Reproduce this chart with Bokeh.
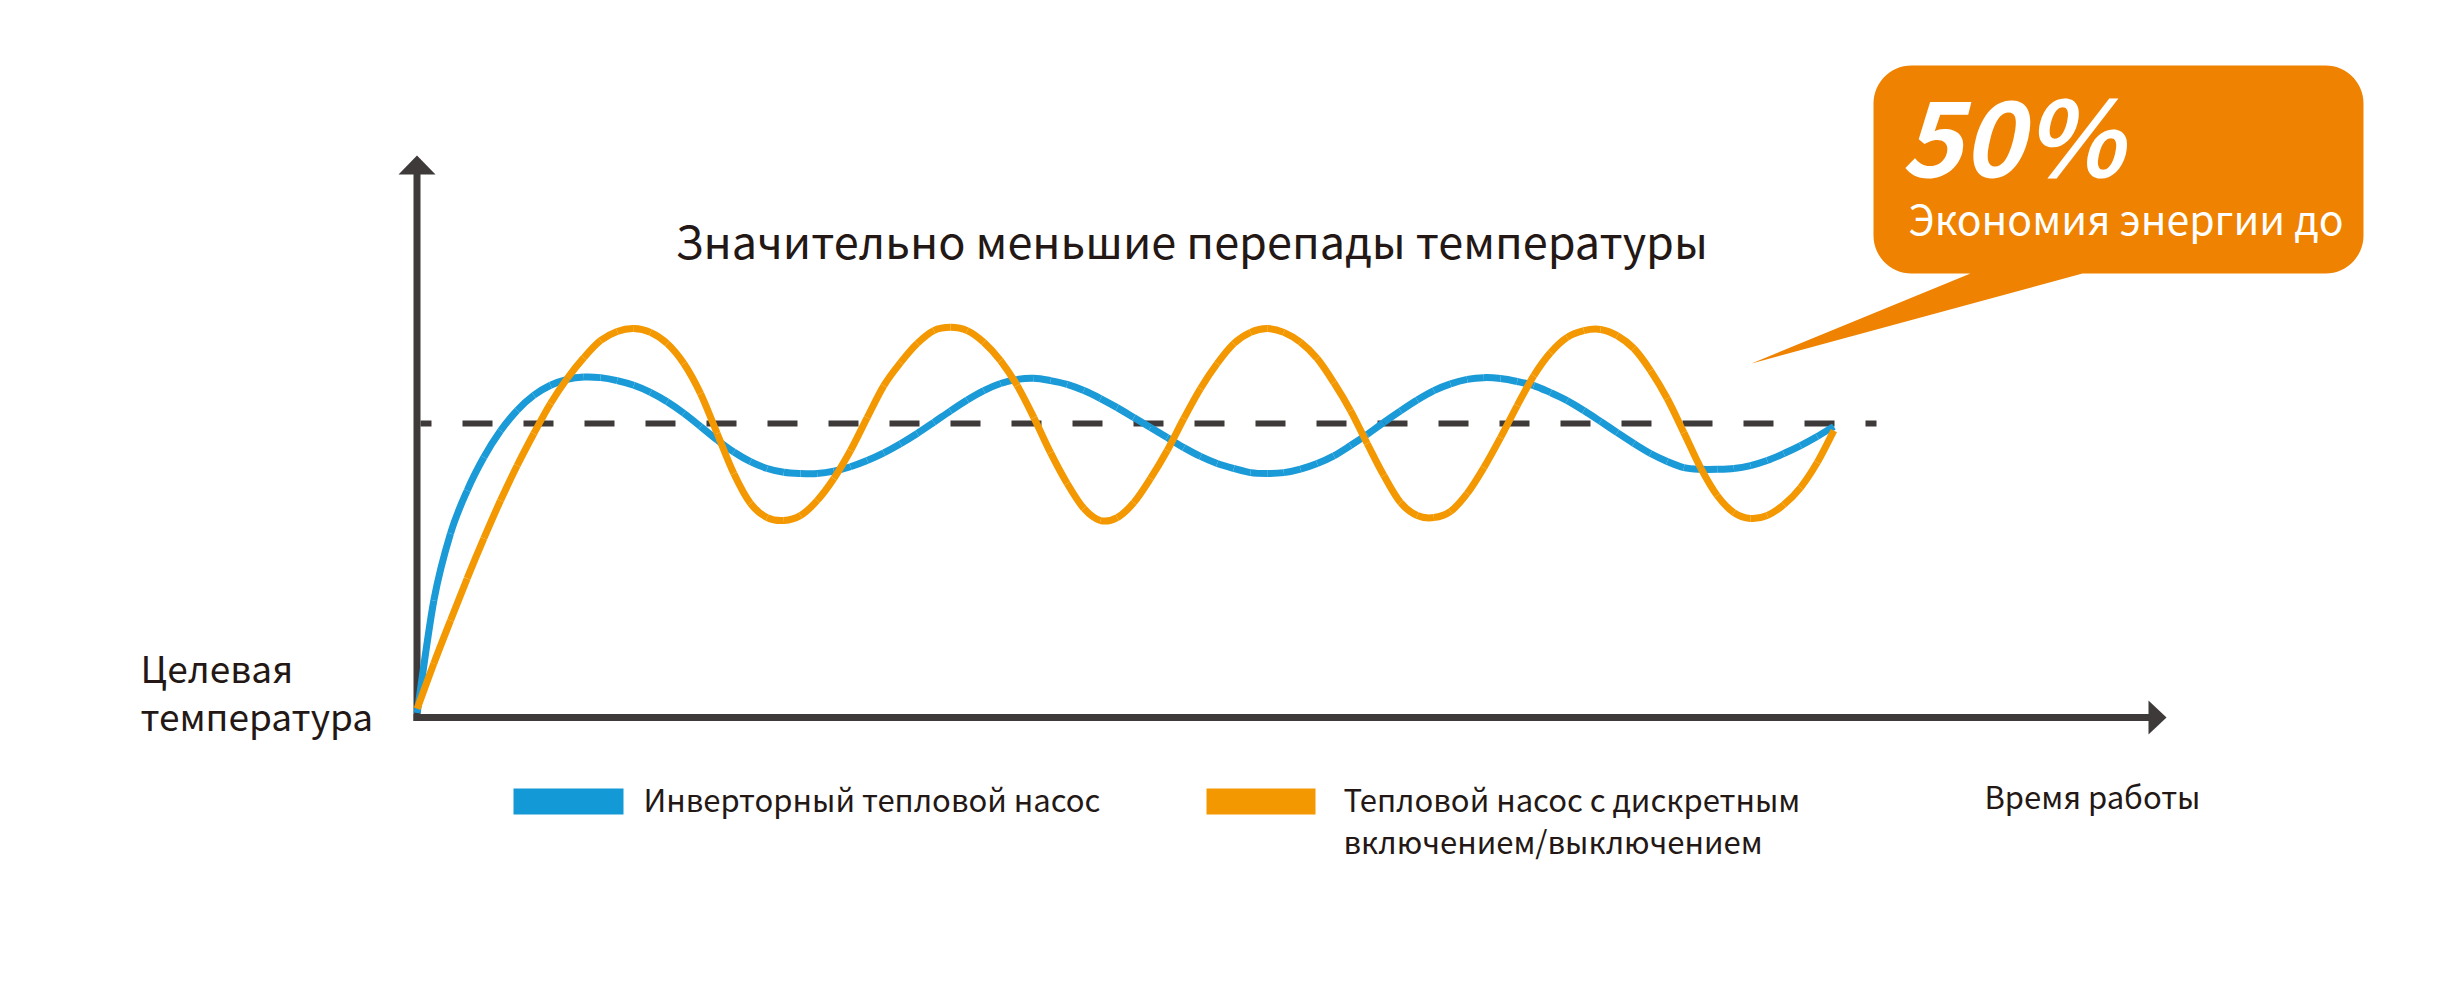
import numpy as np
from bokeh.plotting import figure
from bokeh.models import Range1d, Label
from bokeh.embed import file_html
from bokeh.resources import INLINE

# ---------------- data ----------------
time = [0, 1, 2, 3, 4, 5, 6, 7, 8, 9, 10, 11, 12, 13, 14, 15, 16, 17, 18, 19,
        20, 21, 22, 23, 24, 25, 26, 27, 28, 29, 30, 31, 32, 33, 34, 35, 36, 37, 38, 39,
        40, 41, 42, 43, 44, 45, 46, 47, 48, 49, 50, 51, 52, 53, 54, 55, 56, 57, 58, 59,
        60, 61, 62, 63, 64, 65, 66, 67, 68, 69, 70, 71, 72, 73, 74, 75, 76, 77, 78, 79,
        80, 81, 82, 83, 84, 85]

inverter = [1.5, 39.8, 62.6, 77.2, 88.5, 97.5, 104.5, 109.6, 113.0, 115.0,
            115.8, 115.6, 114.6, 113.0, 110.6, 107.4, 103.5, 99.0, 94.4, 90.3,
            87.0, 84.7, 83.4, 83.0, 83.0, 83.8, 85.3, 87.4, 90.0, 93.1,
            96.6, 100.4, 104.3, 108.0, 111.2, 113.6, 115.0, 115.4, 114.6, 113.3,
            111.2, 108.5, 105.4, 102.0, 98.6, 95.2, 91.8, 88.8, 86.4, 84.7,
            83.3, 83.0, 83.3, 84.5, 86.4, 89.0, 92.5, 96.3, 100.4, 104.3,
            108.0, 111.2, 113.5, 115.0, 115.6, 115.3, 114.3, 112.9, 110.5, 107.8,
            104.4, 100.7, 96.9, 93.2, 89.8, 87.1, 85.0, 84.4, 84.4, 84.7,
            85.7, 87.4, 89.8, 92.5, 95.6, 99.0]

onoff = [3.0, 18.4, 33.0, 47.3, 60.9, 73.8, 85.7, 96.6, 106.8, 115.3,
         122.4, 128.2, 131.3, 132.3, 131.0, 127.2, 120.4, 110.2, 96.6, 83.0,
         72.8, 68.0, 67.0, 68.7, 73.8, 81.3, 90.8, 102.0, 112.9, 120.7,
         127.2, 131.6, 132.7, 131.6, 127.6, 121.4, 112.9, 102.0, 90.1, 79.6,
         71.1, 67.0, 68.0, 73.1, 81.3, 90.8, 101.7, 111.9, 120.4, 127.2,
         131.0, 132.3, 131.0, 127.6, 122.1, 113.9, 104.4, 93.2, 82.3, 73.1,
         68.7, 68.0, 70.1, 76.2, 85.0, 95.2, 106.1, 116.3, 124.1, 129.3,
         131.6, 132.0, 129.9, 125.5, 118.0, 108.5, 96.9, 85.0, 75.5, 69.7,
         67.7, 68.7, 72.4, 78.2, 86.7, 97.6]

target = 100

title_text = "Значительно меньшие перепады температуры"
y_label_lines = ["Целевая", "температура"]
x_label_text = "Время работы"
legend_inverter = ["Инверторный тепловой насос"]
legend_onoff = ["Тепловой насос с дискретным", "включением/выключением"]
callout_big = "50%"
callout_small = "Экономия энергии до"

# ---------------- layout helpers (page pixel -> data) ----------------
W, H = 2446, 972
T0_PX, T_PX = 416.67, 16.667     # x pixel of time 0, pixels per time unit
Y0_PX, Y_PX = 717.0, 2.94        # y pixel of value 0, pixels per value unit


def X(px):
    return (np.asarray(px, dtype=float) - T0_PX) / T_PX


def Y(py):
    return (Y0_PX - np.asarray(py, dtype=float)) / Y_PX


FONT = "Noto Sans CJK SC"
AXIS_C = "#3e3a39"
TEXT_C = "#231815"
BLUE = "#1a9ad7"
ORANGE = "#f39800"
CALLOUT = "#ef8200"

p = figure(width=W, height=H,
           x_range=Range1d(float(X(0)), float(X(W))),
           y_range=Range1d(float(Y(H)), float(Y(0))),
           x_axis_type=None, y_axis_type=None,
           output_backend="svg", toolbar_location=None, min_border=0)
p.grid.visible = False
p.outline_line_color = None
p.background_fill_color = "white"
p.border_fill_color = "white"

# ---------------- target dashed line ----------------
p.line([float(X(420)), float(X(1876))], [target, target], line_color=AXIS_C,
       line_width=6, line_dash="30 31", line_dash_offset=19)

# ---------------- axes with arrows ----------------
ax_x = float(X(416.5))
p.segment(x0=[ax_x], y0=[float(Y(720.5))], x1=[ax_x], y1=[float(Y(173))],
          line_color=AXIS_C, line_width=7)
p.segment(x0=[float(X(413))], y0=[0], x1=[float(X(2149))], y1=[0],
          line_color=AXIS_C, line_width=7)
p.patch(X([416.5, 398, 435]), Y([155, 174, 174]), fill_color=AXIS_C, line_color=None)
p.patch(X([2166, 2148, 2148]), Y([717, 700, 734]), fill_color=AXIS_C, line_color=None)


# ---------------- series (smooth curve through the read points) ----------------
def smooth_segments(xs, ys):
    x = np.asarray(xs, dtype=float)
    y = np.asarray(ys, dtype=float)
    xp = np.concatenate([[x[0]], x, [x[-1]]])
    yp = np.concatenate([[y[0]], y, [y[-1]]])
    n = len(x) - 1
    seg = dict(x0=x[:-1], y0=y[:-1], x1=x[1:], y1=y[1:])
    seg["cx0"] = x[:-1] + (xp[2:n + 2] - xp[0:n]) / 6.0
    seg["cy0"] = y[:-1] + (yp[2:n + 2] - yp[0:n]) / 6.0
    seg["cx1"] = x[1:] - (xp[3:n + 3] - xp[1:n + 1]) / 6.0
    seg["cy1"] = y[1:] - (yp[3:n + 3] - yp[1:n + 1]) / 6.0
    return seg


p.bezier(**smooth_segments(time, inverter), line_color=BLUE, line_width=7)
p.bezier(**smooth_segments(time, onoff), line_color=ORANGE, line_width=7)

# ---------------- callout ----------------
x0, x1, y0, y1, r = 1873.0, 2363.0, 65.0, 273.0, 38.0
pts_x, pts_y = [], []


def arc(cx, cy, a0, a1):
    a = np.linspace(a0, a1, 16)
    pts_x.extend(cx + r * np.cos(a))
    pts_y.extend(cy + r * np.sin(a))


arc(x0 + r, y0 + r, np.pi, 1.5 * np.pi)
arc(x1 - r, y0 + r, 1.5 * np.pi, 2 * np.pi)
arc(x1 - r, y1 - r, 0, 0.5 * np.pi)
pts_x += [2082, 1751, 1970]
pts_y += [y1, 363, y1]
arc(x0 + r, y1 - r, 0.5 * np.pi, np.pi)
p.patch(X(pts_x), Y(pts_y), fill_color=CALLOUT, line_color=None)

p.add_layout(Label(x=float(X(1900)), y=float(Y(131)), text=callout_big,
                   text_font=FONT, text_font_size="104px", text_font_style="bold italic",
                   text_color="white", text_baseline="alphabetic"))
p.add_layout(Label(x=float(X(1908)), y=float(Y(216)), text=callout_small,
                   text_font=FONT, text_font_size="41px", text_font_style="normal",
                   text_color="white", text_baseline="alphabetic"))

# ---------------- texts ----------------
p.add_layout(Label(x=float(X(675)), y=float(Y(239)), text=title_text,
                   text_font=FONT, text_font_size="45px", text_color=TEXT_C,
                   text_baseline="alphabetic"))
for i, line in enumerate(y_label_lines):
    p.add_layout(Label(x=float(X(140)), y=float(Y(666 + 48 * i)), text=line,
                       text_font=FONT, text_font_size="37px", text_color=TEXT_C,
                       text_baseline="alphabetic"))
p.add_layout(Label(x=float(X(1984)), y=float(Y(795)), text=x_label_text,
                   text_font=FONT, text_font_size="31px", text_color=TEXT_C,
                   text_baseline="alphabetic"))

# ---------------- legend ----------------
p.quad(left=[float(X(513))], right=[float(X(623))], top=[float(Y(788))],
       bottom=[float(Y(814))], fill_color="#139ad6", line_color=None)
p.quad(left=[float(X(1206))], right=[float(X(1315))], top=[float(Y(788))],
       bottom=[float(Y(814))], fill_color=ORANGE, line_color=None)
for i, line in enumerate(legend_inverter):
    p.add_layout(Label(x=float(X(643)), y=float(Y(798 + 42 * i)), text=line,
                       text_font=FONT, text_font_size="31px", text_color=TEXT_C,
                       text_baseline="alphabetic"))
for i, line in enumerate(legend_onoff):
    p.add_layout(Label(x=float(X(1343)), y=float(Y(798 + 42 * i)), text=line,
                       text_font=FONT, text_font_size="31px", text_color=TEXT_C,
                       text_baseline="alphabetic"))

open("out.html", "w").write(file_html(p, INLINE))
